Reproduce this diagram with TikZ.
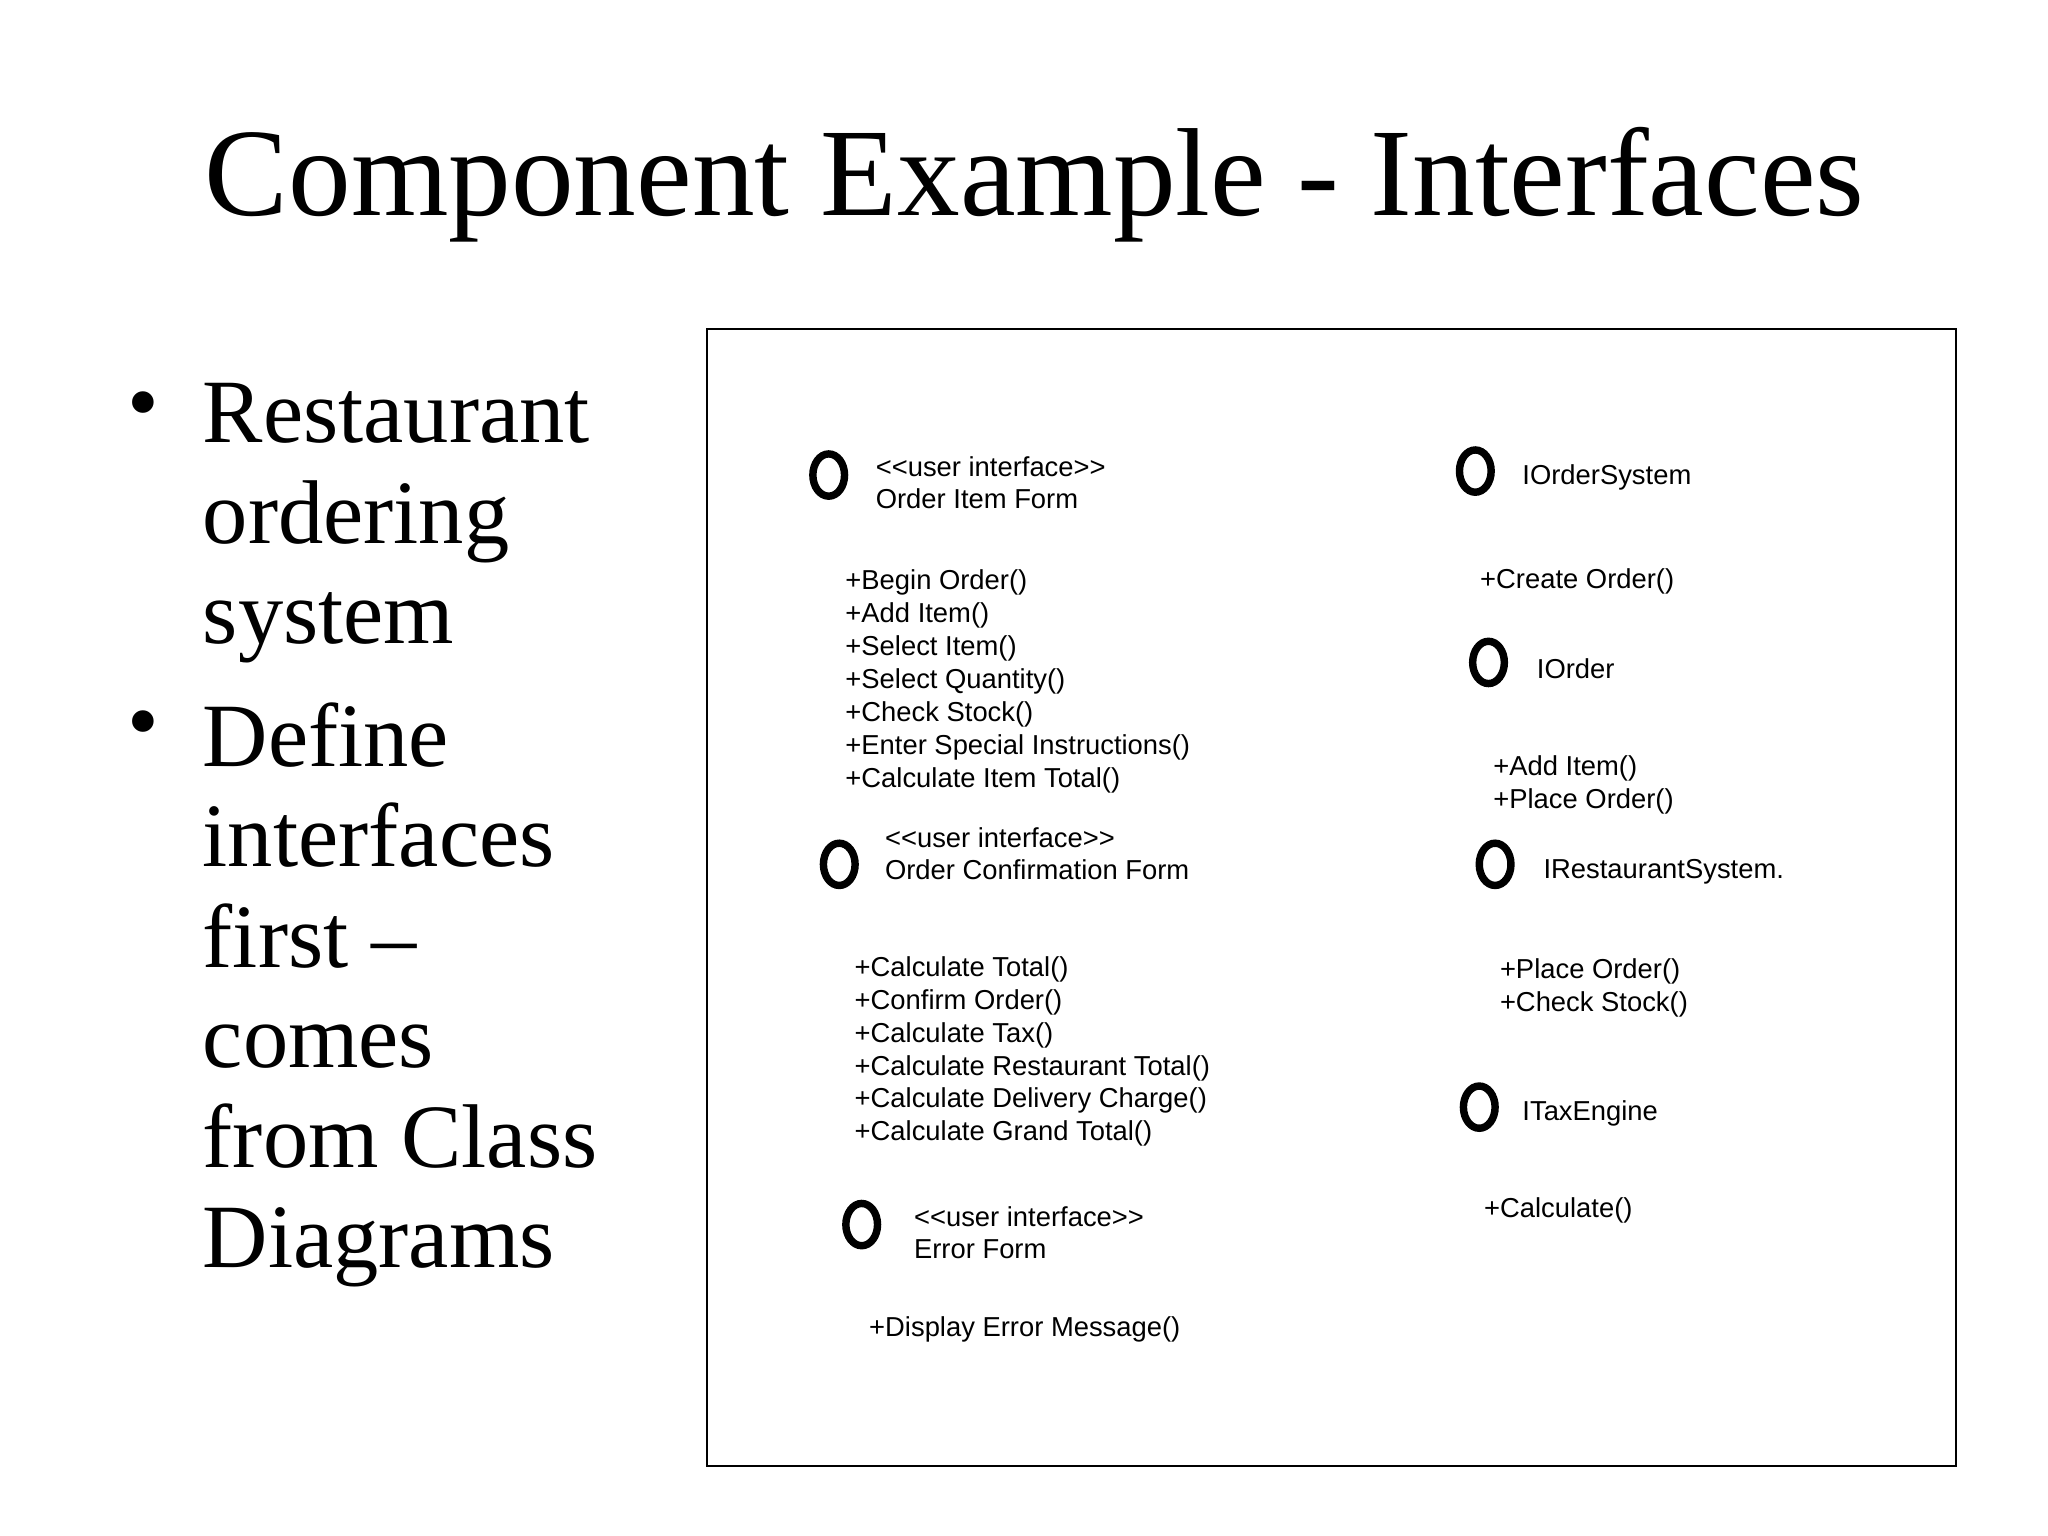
\documentclass[tikz,border=0pt]{standalone}
\usetikzlibrary{shapes.geometric}
\usepackage{fontspec}
\setmainfont{Liberation Serif}
\newfontfamily\dsans{Liberation Sans}
\begin{document}
\begin{tikzpicture}[x=0.01cm,y=-0.01cm,
  iface/.style={draw,line width=1.6pt,ellipse,minimum width=0.24cm,minimum height=0.32cm,inner sep=0pt},
  lbl/.style={anchor=west,font=\dsans\fontsize{5.9}{7.0}\selectfont,align=left,inner sep=0pt},
  ops/.style={anchor=north west,font=\dsans\fontsize{5.9}{7.1}\selectfont,align=left,inner sep=0pt},
  bul/.style={anchor=north west,font=\fontsize{19.5}{21.6}\selectfont,align=left,inner sep=0pt}]
\useasboundingbox (0,0) rectangle (1552,1164);
\fill[white] (0,0) rectangle (1552,1164);
\node[font=\fontsize{27}{30}\selectfont] (title) at (784,140) {Component Example - Interfaces};
\node[bul] (b1) at (96,296) {•};
\node[bul] (t1) at (153,290) {Restaurant\\ordering\\system};
\node[bul] (b2) at (96,538) {•};
\node[bul] (t2) at (153,532) {Define\\interfaces\\first –\\comes\\from Class\\Diagrams};
\draw (536,249) rectangle (1482,1111);
\node[iface] (c1) at (628,360) {};
\node[lbl] (l1) at (663,366) {<{}<user interface>{}>\\Order Item Form};
\node[ops] (o1) at (640,431) {+Begin Order()\\+Add Item()\\+Select Item()\\+Select Quantity()\\+Check Stock()\\+Enter Special Instructions()\\+Calculate Item Total()};
\node[iface] (c2) at (636,655) {};
\node[lbl] (l2) at (670,647) {<{}<user interface>{}>\\Order Confirmation Form};
\node[ops] (o2) at (647,724) {+Calculate Total()\\+Confirm Order()\\+Calculate Tax()\\+Calculate Restaurant Total()\\+Calculate Delivery Charge()\\+Calculate Grand Total()};
\node[iface] (c3) at (653,928) {};
\node[lbl] (l3) at (692,934) {<{}<user interface>{}>\\Error Form};
\node[ops] (o3) at (658,997) {+Display Error Message()};
\node[iface] (c4) at (1118,357) {};
\node[lbl] (l4) at (1153,362) {IOrderSystem};
\node[ops] (o4) at (1121,430) {+Create Order()};
\node[iface] (c5) at (1128,502) {};
\node[lbl] (l5) at (1164,507) {IOrder};
\node[ops] (o5) at (1131,572) {+Add Item()\\+Place Order()};
\node[iface] (c6) at (1133,655) {};
\node[lbl] (l6) at (1169,661) {IRestaurantSystem.};
\node[ops] (o6) at (1136,726) {+Place Order()\\+Check Stock()};
\node[iface] (c7) at (1121,839) {};
\node[lbl] (l7) at (1153,844) {ITaxEngine};
\node[ops] (o7) at (1124,907) {+Calculate()};
\end{tikzpicture}
\end{document}
